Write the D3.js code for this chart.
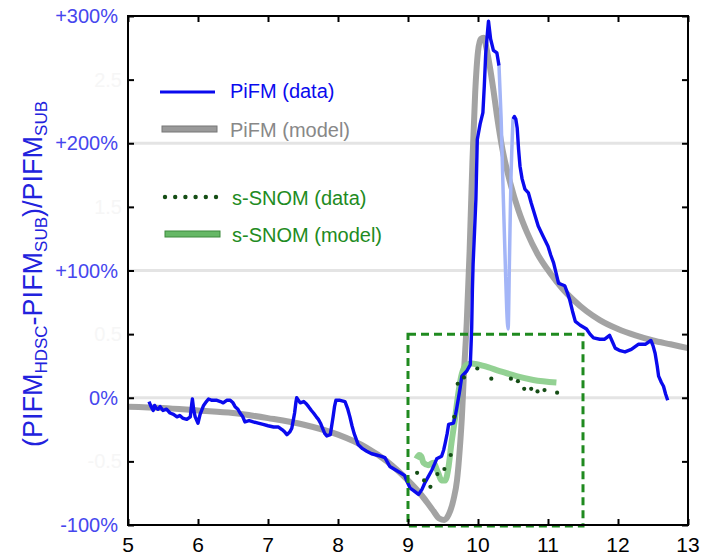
<!DOCTYPE html>
<html><head><meta charset="utf-8">
<script src="https://cdn.jsdelivr.net/npm/d3@7"></script>
<style>body{margin:0;background:#fff}svg{display:block}text{font-family:Arial,"Liberation Sans",sans-serif}</style>
</head><body><svg id="c" width="702" height="556"></svg>
<script>
// ---- data ----
const xTicks = [5,6,7,8,9,10,11,12,13];
const yTicksMajor = [-1,0,1,2,3];
const yTickLabels = ["-100%","0%","+100%","+200%","+300%"];
const yTicksMinor = [-0.5,0.5,1.5,2.5];
const yMinorLabels = ["-0.5","0.5","1.5","2.5"];
const gridValues = [0,1,2];

const pifmModel = [[5.0,-0.07],[5.5,-0.08],[6.0,-0.10],[6.5,-0.12],[7.0,-0.16],[7.5,-0.21],[8.0,-0.29],[8.4,-0.39],[8.7,-0.50],[9.0,-0.65],[9.2,-0.77],[9.35,-0.88],[9.45,-0.95],[9.52,-0.96],[9.58,-0.92],[9.65,-0.80],[9.70,-0.65],[9.74,-0.40],[9.77,-0.15],[9.80,0.20],[9.84,0.60],[9.88,1.15],[9.92,1.85],[9.96,2.40],[10.00,2.72],[10.04,2.82],[10.08,2.83],[10.12,2.75],[10.17,2.60],[10.22,2.42],[10.27,2.22],[10.35,1.95],[10.46,1.69],[10.58,1.47],[10.70,1.30],[10.85,1.13],[11.03,0.98],[11.2,0.86],[11.36,0.77],[11.55,0.68],[11.74,0.61],[12.0,0.54],[12.25,0.49],[12.5,0.45],[12.75,0.42],[13.0,0.39]];

const pifmData = [[5.30,-0.03],[5.33,-0.07],[5.36,-0.10],[5.38,-0.06],[5.40,-0.08],[5.43,-0.09],[5.46,-0.07],[5.50,-0.10],[5.55,-0.09],[5.60,-0.12],[5.65,-0.13],[5.70,-0.15],[5.74,-0.14],[5.78,-0.16],[5.84,-0.17],[5.89,-0.15],[5.91,-0.05],[5.92,-0.01],[5.94,-0.10],[5.96,-0.15],[6.00,-0.20],[6.03,-0.13],[6.08,-0.06],[6.12,-0.03],[6.15,-0.01],[6.20,-0.02],[6.27,-0.02],[6.32,-0.03],[6.36,-0.04],[6.41,-0.02],[6.46,-0.02],[6.50,-0.04],[6.53,-0.07],[6.57,-0.09],[6.60,-0.12],[6.64,-0.15],[6.67,-0.19],[6.73,-0.18],[6.79,-0.19],[6.86,-0.20],[6.93,-0.21],[7.00,-0.22],[7.08,-0.23],[7.15,-0.23],[7.20,-0.25],[7.24,-0.27],[7.27,-0.29],[7.31,-0.27],[7.34,-0.24],[7.36,-0.18],[7.38,-0.12],[7.40,-0.03],[7.41,0.00],[7.46,-0.04],[7.51,-0.03],[7.55,-0.05],[7.58,-0.07],[7.62,-0.10],[7.65,-0.12],[7.69,-0.15],[7.72,-0.17],[7.75,-0.20],[7.78,-0.24],[7.81,-0.28],[7.84,-0.30],[7.89,-0.29],[7.91,-0.22],[7.93,-0.15],[7.95,-0.07],[7.97,-0.02],[8.03,-0.02],[8.10,-0.03],[8.14,-0.09],[8.17,-0.15],[8.20,-0.22],[8.23,-0.28],[8.29,-0.37],[8.35,-0.40],[8.41,-0.42],[8.48,-0.44],[8.55,-0.45],[8.62,-0.46],[8.67,-0.47],[8.71,-0.51],[8.74,-0.54],[8.80,-0.56],[8.89,-0.59],[8.95,-0.61],[8.98,-0.65],[9.03,-0.71],[9.08,-0.73],[9.15,-0.76],[9.20,-0.72],[9.24,-0.67],[9.29,-0.62],[9.34,-0.57],[9.38,-0.52],[9.41,-0.48],[9.48,-0.46],[9.51,-0.41],[9.53,-0.36],[9.56,-0.28],[9.58,-0.21],[9.65,-0.20],[9.68,-0.13],[9.70,-0.07],[9.74,0.06],[9.77,0.17],[9.84,0.21],[9.89,0.26],[9.90,0.40],[9.91,0.55],[9.92,0.85],[9.93,1.05],[9.95,1.30],[9.97,1.56],[9.99,2.03],[10.03,2.15],[10.07,2.24],[10.09,2.45],[10.11,2.70],[10.14,2.90],[10.15,2.96],[10.18,2.82],[10.22,2.73],[10.27,2.71],[10.30,2.61]];

const pifmDataPale = [[10.30,2.61],[10.33,2.20],[10.36,1.60],[10.39,1.05],[10.41,0.70],[10.43,0.54],[10.45,1.10],[10.47,1.70],[10.49,2.05],[10.50,2.19]];

const pifmDataTail = [[10.50,2.19],[10.52,2.21],[10.54,2.19],[10.56,2.12],[10.58,1.95],[10.60,1.82],[10.63,1.72],[10.67,1.64],[10.72,1.61],[10.76,1.53],[10.81,1.44],[10.86,1.35],[10.93,1.27],[11.00,1.19],[11.04,1.12],[11.08,1.06],[11.12,0.97],[11.15,0.90],[11.24,0.88],[11.28,0.82],[11.31,0.77],[11.35,0.68],[11.39,0.60],[11.46,0.57],[11.55,0.54],[11.60,0.50],[11.65,0.47],[11.74,0.46],[11.81,0.46],[11.88,0.49],[11.92,0.44],[11.96,0.39],[12.03,0.37],[12.10,0.36],[12.19,0.38],[12.29,0.42],[12.39,0.42],[12.47,0.45],[12.50,0.41],[12.53,0.35],[12.56,0.25],[12.58,0.17],[12.62,0.12],[12.65,0.09],[12.68,0.03],[12.71,-0.02]];

const snomModel = [[9.12,-0.48],[9.16,-0.45],[9.19,-0.46],[9.22,-0.51],[9.29,-0.53],[9.36,-0.51],[9.43,-0.59],[9.48,-0.65],[9.53,-0.65],[9.58,-0.54],[9.62,-0.36],[9.67,-0.17],[9.72,0.04],[9.77,0.19],[9.84,0.26],[9.91,0.27],[10.08,0.25],[10.31,0.21],[10.55,0.17],[10.79,0.14],[11.12,0.12]];

const snomData = [[9.13,-0.59],[9.23,-0.65],[9.32,-0.70],[9.42,-0.60],[9.52,-0.56],[9.61,-0.45],[9.66,-0.15],[9.71,0.11],[9.80,0.16],[9.99,0.23],[10.19,0.15],[10.47,0.15],[10.57,0.13],[10.66,0.07],[10.76,0.07],[10.85,0.05],[10.95,0.06],[11.13,0.04]];

const zoomBox = {x0:9.0, x1:11.5, y0:-1.0, y1:0.5};
const legendItems = ["PiFM (data)","PiFM (model)","s-SNOM (data)","s-SNOM (model)"];

// ---- chart ----
const svg = d3.select("#c");
const L=128,R=688,T=16,B=525;
const x = d3.scaleLinear().domain([5,13]).range([L,R]);
const y = d3.scaleLinear().domain([-1,3]).range([B,T]);
const line = d3.line().x(d=>x(d[0])).y(d=>y(d[1]));
const curve = d3.line().x(d=>x(d[0])).y(d=>y(d[1])).curve(d3.curveMonotoneX);

// gridlines
svg.selectAll(".grid").data(gridValues).join("line")
  .attr("x1",L).attr("x2",R).attr("y1",d=>y(d)).attr("y2",d=>y(d))
  .attr("stroke","#e4e4e4").attr("stroke-width",3);

// model curves
svg.append("path").datum(pifmModel).attr("d",curve).attr("fill","none")
  .attr("stroke","#999").attr("stroke-width",6).attr("stroke-opacity",0.9);
svg.append("path").datum(snomModel).attr("d",curve).attr("fill","none")
  .attr("stroke","#8dcf8d").attr("stroke-width",6).attr("stroke-opacity",0.95);

// data
svg.append("path").datum(pifmDataPale).attr("d",curve).attr("fill","none")
  .attr("stroke","#a3b5f7").attr("stroke-width",3.5);
[pifmData,pifmDataTail].forEach(s=>svg.append("path").datum(s).attr("d",line)
  .attr("fill","none").attr("stroke","#0a0aee").attr("stroke-width",3.4).attr("stroke-linejoin","round"));
svg.selectAll(".dot").data(snomData).join("circle")
  .attr("cx",d=>x(d[0])).attr("cy",d=>y(d[1])).attr("r",2.1).attr("fill","#154d15");

// zoom box
svg.append("rect").attr("x",x(zoomBox.x0)).attr("y",y(zoomBox.y1))
  .attr("width",x(zoomBox.x1)-x(zoomBox.x0)).attr("height",y(zoomBox.y0)-y(zoomBox.y1)+1)
  .attr("fill","none").attr("stroke","#1f8a1f").attr("stroke-width",3).attr("stroke-dasharray","8,5");

// axes frame with inward ticks
const yAll = d3.range(-1,3.01,0.5);
svg.append("g").attr("transform",`translate(0,${B})`)
  .call(d3.axisTop(x).tickValues(xTicks).tickSize(6).tickFormat(""))
  .call(g=>{g.select(".domain").remove();g.selectAll("line").attr("stroke","#000").attr("stroke-width",2);});
svg.append("g").attr("transform",`translate(0,${T})`)
  .call(d3.axisBottom(x).tickValues(xTicks).tickSize(6).tickFormat(""))
  .call(g=>{g.select(".domain").remove();g.selectAll("line").attr("stroke","#000").attr("stroke-width",2);});
svg.append("g").attr("transform",`translate(${L},0)`)
  .call(d3.axisRight(y).tickValues(yAll).tickSize(6).tickFormat(""))
  .call(g=>{g.select(".domain").remove();g.selectAll("line").attr("stroke","#000").attr("stroke-width",2);});
svg.append("g").attr("transform",`translate(${R},0)`)
  .call(d3.axisLeft(y).tickValues(yAll).tickSize(6).tickFormat(""))
  .call(g=>{g.select(".domain").remove();g.selectAll("line").attr("stroke","#000").attr("stroke-width",2);});
svg.append("rect").attr("x",L).attr("y",T).attr("width",R-L).attr("height",B-T)
  .attr("fill","none").attr("stroke","#000").attr("stroke-width",2);

// tick labels
svg.selectAll(".xl").data(xTicks).join("text").attr("x",d=>x(d)).attr("y",B+27)
  .attr("text-anchor","middle").attr("font-size",21).attr("fill","#000").text(d=>d);
svg.selectAll(".yl").data(yTicksMajor).join("text").attr("x",L-10).attr("y",d=>y(d)+7)
  .attr("text-anchor","end").attr("font-size",20).attr("fill","#4646ee").text((d,i)=>yTickLabels[i]);
svg.selectAll(".ym").data(yTicksMinor).join("text").attr("x",L-6).attr("y",d=>y(d)+7)
  .attr("text-anchor","end").attr("font-size",20).attr("fill","#f6f6f6").text((d,i)=>yMinorLabels[i]);

// y title
const t = svg.append("text").attr("transform","translate(42,274) rotate(-90)")
  .attr("text-anchor","middle").attr("font-size",27).attr("fill","#2222dd");
const parts = [["(PIFM",0],["HDSC",1],["-PIFM",0],["SUB",1],[")/PIFM",0],["SUB",1]];
let shifted = false;
parts.forEach(p=>{
  let dy = 0;
  if(p[1] && !shifted){dy=5;shifted=true;}
  else if(!p[1] && shifted){dy=-5;shifted=false;}
  t.append("tspan").attr("font-size",p[1]?17:27).attr("dy",dy).text(p[0]);
});

// legend
const lg = svg.append("g");
lg.append("line").attr("x1",160).attr("x2",215).attr("y1",92).attr("y2",92).attr("stroke","#0a0aee").attr("stroke-width",3);
lg.append("rect").attr("x",162).attr("y",126).attr("width",55).attr("height",6).attr("fill","#9a9a9a").attr("stroke","#777").attr("stroke-width",1);
d3.range(6).forEach(i=>lg.append("circle").attr("cx",165+i*10.2).attr("cy",197).attr("r",2.2).attr("fill","#154d15"));
lg.append("rect").attr("x",165).attr("y",231).attr("width",55).attr("height",6).attr("fill","#66b866").attr("stroke","#3d8a3d").attr("stroke-width",1);
const lcol = ["#0a0aee","#888","#228b22","#228b22"];
const ly = [98,137,205,242];
const lx = [230,230,232,232];
legendItems.forEach((s,i)=>lg.append("text").attr("x",lx[i]).attr("y",ly[i]).attr("font-size",20).attr("fill",lcol[i]).text(s));
</script></body></html>
